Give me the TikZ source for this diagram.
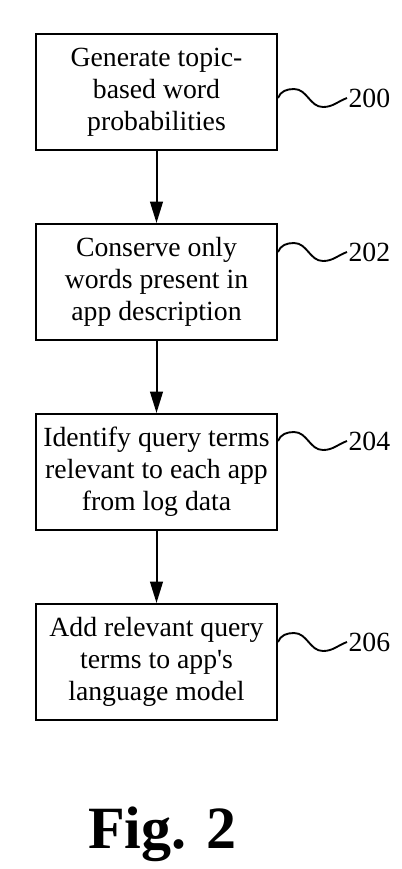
\documentclass[tikz,border=0pt]{standalone}
\usepackage{fontspec}
\setmainfont{Liberation Serif}
\usetikzlibrary{arrows.meta}
\begin{document}
\begin{tikzpicture}[x=0.75pt,y=0.75pt,
  stepbox/.style={draw=black,line width=1.5pt,minimum width=180.75pt,minimum height=87pt,
    align=center,inner sep=2pt,font=\fontsize{20.8}{24}\selectfont},
  reflabel/.style={anchor=west,inner sep=1pt,font=\fontsize{20.8}{24}\selectfont},
  flow/.style={line width=1.5pt,-{Triangle[width=9.5pt,length=16pt]}},
  squig/.style={line width=1.4pt}]
\useasboundingbox (0,0) rectangle (401,-869);
\node[stepbox] (b1) at (156.5,-92) {Generate topic-\\based word\\probabilities};
\node[stepbox] (b2) at (156.5,-282) {Conserve only\\words present in\\app description};
\node[stepbox] (b3) at (156.5,-472) {Identify query terms\\relevant to each app\\from log data};
\node[stepbox] (b4) at (156.5,-662) {Add relevant query\\terms to app\textquotesingle s\\language model};
\node[reflabel] (l1) at (347,-98) {200};
\node[reflabel] (l2) at (347,-252) {202};
\node[reflabel] (l3) at (347,-441) {204};
\node[reflabel] (l4) at (347,-642) {206};
\draw[flow] (b1) -- (b2);
\draw[flow] (b2) -- (b3);
\draw[flow] (b3) -- (b4);
\foreach \i in {1,2,3,4}{
  \draw[squig] (b\i.east |- l\i.west) to[out=70,in=180] ++(16,9) to[out=0,in=180] ++(29,-18) to[out=0,in=200] (l\i.west);
}
\node[anchor=base,font=\bfseries\fontsize{45}{50}\selectfont] (fig) at (162.5,-848) {Fig. 2};
\end{tikzpicture}
\end{document}
